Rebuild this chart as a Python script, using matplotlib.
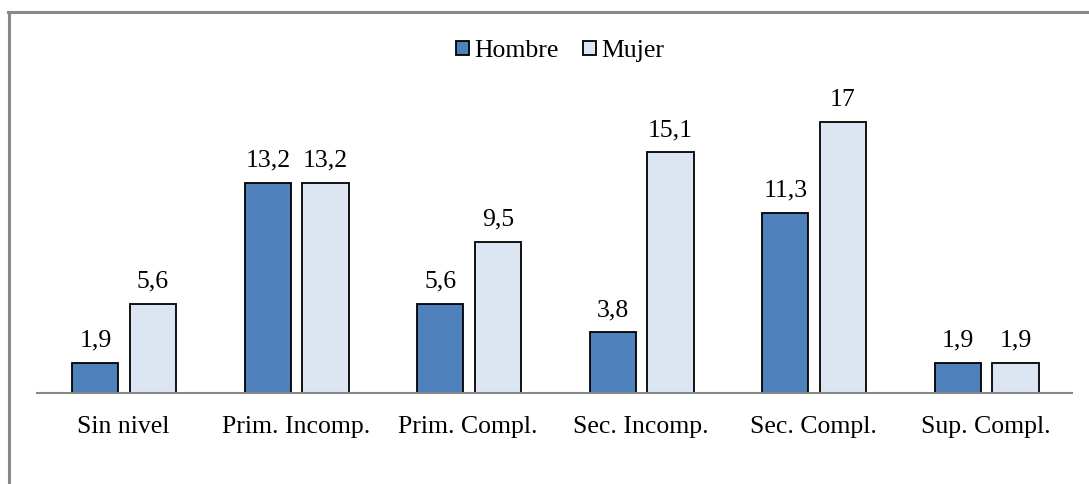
import matplotlib
matplotlib.use("Agg")
import matplotlib.pyplot as plt
import numpy as np

categories = ["Sin nivel", "Prim. Incomp.", "Prim. Compl.", "Sec. Incomp.", "Sec. Compl.", "Sup. Compl."]
hombre = [1.9, 13.2, 5.6, 3.8, 11.3, 1.9]
mujer = [5.6, 13.2, 9.5, 15.1, 17, 1.9]
series_names = ["Hombre", "Mujer"]

plt.rcParams['font.family'] = ['Liberation Serif', 'DejaVu Serif']

W, H = 1089, 484
fig = plt.figure(figsize=(W/100, H/100), dpi=100)
fig.patch.set_facecolor('white')

# outer border (top and left visible)
fig.add_artist(plt.Line2D([9/W, 9/W], [0, 1 - 12/H], transform=fig.transFigure, color='#898989', lw=2.2))
fig.add_artist(plt.Line2D([8/W, 1], [1 - 12/H, 1 - 12/H], transform=fig.transFigure, color='#898989', lw=2.2))

FS = 18.5
ymax = 18
px_per_unit = 15.94
ax_bottom = 393
ax_top = ax_bottom - ymax * px_per_unit
ax = fig.add_axes([37/W, 1 - ax_bottom/H, (1072-37)/W, (ax_bottom-ax_top)/H])
ax.set_xlim(-0.5, len(categories) - 0.5)
ax.set_ylim(0, ymax)

x = np.arange(len(categories))
w = 0.268
c_h, c_m = '#4F81BD', '#DCE6F2'
b1 = ax.bar(x - 0.162, hombre, w, color=c_h, edgecolor='black', linewidth=1.3, label=series_names[0])
b2 = ax.bar(x + 0.172, mujer, w, color=c_m, edgecolor='black', linewidth=1.3, label=series_names[1])

def fmt(v):
    s = f"{v:g}"
    return s.replace('.', ',')

for bars, vals in ((b1, hombre), (b2, mujer)):
    for b, v in zip(bars, vals):
        ax.annotate(fmt(v), (b.get_x() + b.get_width()/2, v), xytext=(0, 11.5),
                    textcoords='offset points', ha='center', va='baseline', fontsize=FS,
                    annotation_clip=False)

for s in ['top', 'right', 'left']:
    ax.spines[s].set_visible(False)
ax.spines['bottom'].set_color('#898989')
ax.spines['bottom'].set_linewidth(1.5)
ax.set_yticks([])
ax.set_xticks(x)
ax.set_xticklabels(categories, fontsize=FS)
ax.tick_params(axis='x', length=0, pad=16.5)

leg = fig.legend(handles=[b1, b2], loc='center', bbox_to_anchor=(560/W, 1 - 51/H), ncol=2,
                 frameon=False, fontsize=FS, handlelength=0.5, handleheight=0.5,
                 handletextpad=0.2, columnspacing=0.95)

fig.savefig('out.png', dpi=100, facecolor='white')
